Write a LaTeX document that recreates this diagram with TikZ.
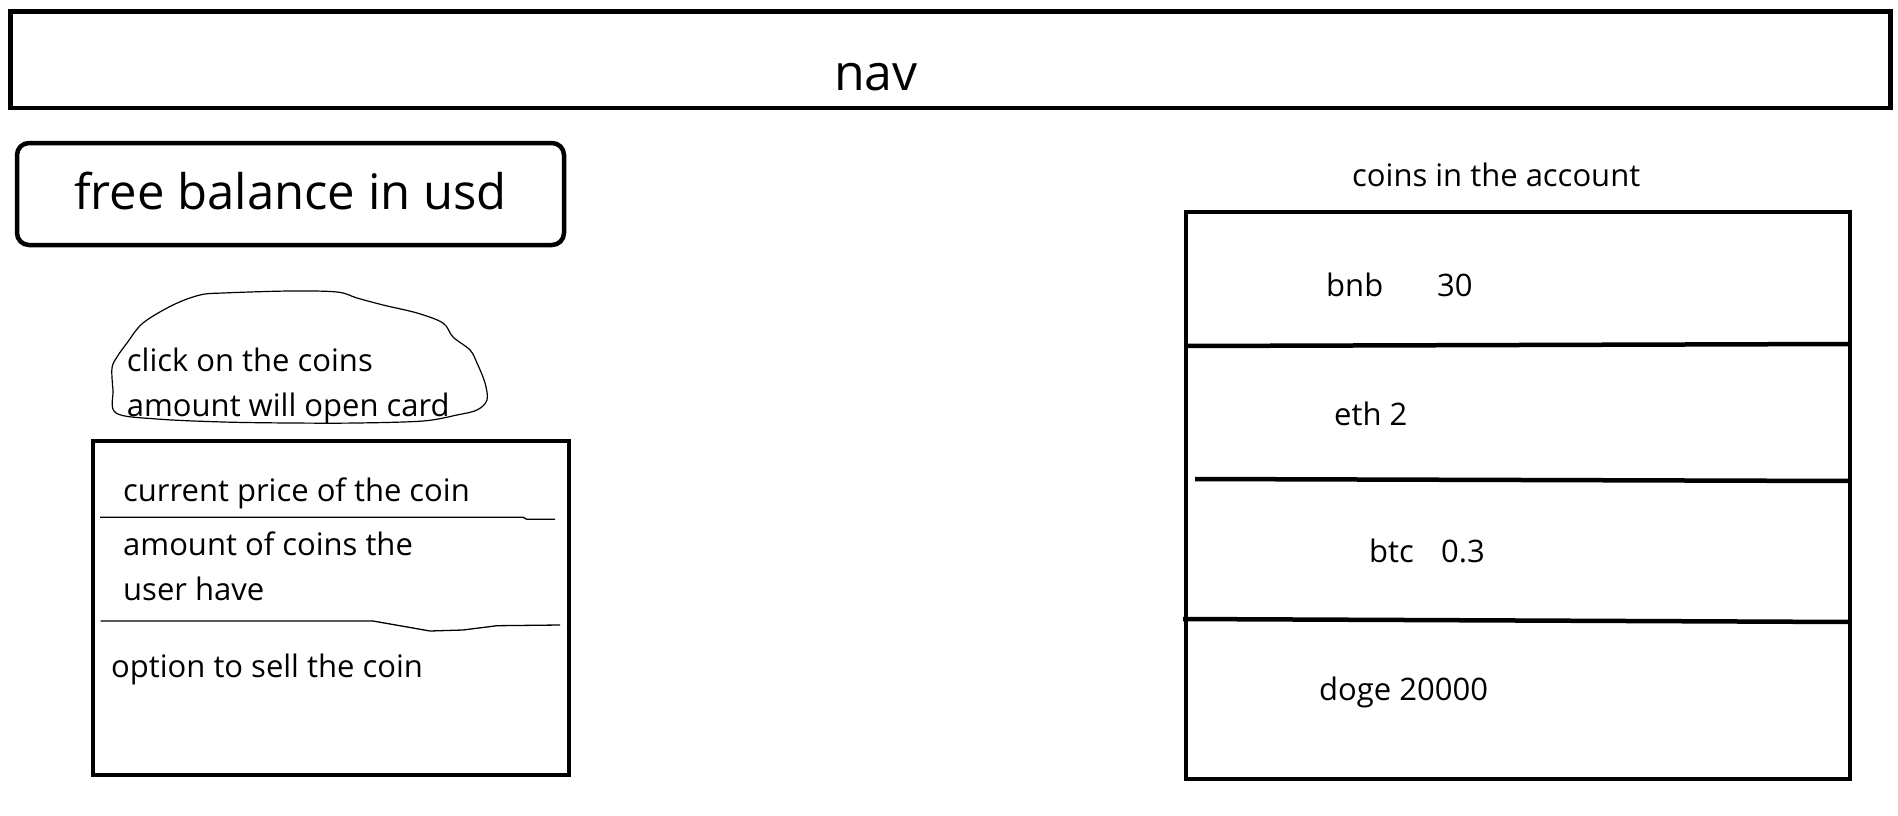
\documentclass[tikz,border=0pt]{standalone}
\usepackage{fontspec}
\setmainfont{Open Sans}
\usetikzlibrary{calc}

\begin{document}
\begin{tikzpicture}[x=1pt,y=-1pt,box/.style={draw,line width=4.5pt,inner sep=0pt,outer sep=0pt},txt/.style={inner sep=0pt,anchor=base west,align=left,font={\fontsize{31}{45}\selectfont}},thin/.style={line width=1.3pt}]
            \useasboundingbox (0,0) rectangle (1898,816);

            \node[box,minimum width=1880pt,minimum height=96pt] (nav) at (950.5,59.75) {};
            \node[inner sep=0pt,anchor=base,font={\fontsize{50}{60}\selectfont}] (navlabel) at (876,90.7) {nav};

            \node[box,rounded corners=12pt,minimum width=547pt,minimum height=102pt,text height=37pt,text depth=6pt,font={\fontsize{49}{59}\selectfont}] (balance) at (290.5,194) {free balance in usd};

            \draw[line width=1.2pt] plot[smooth cycle,tension=0.55] coordinates {
                (112,368) (113,390) (116,413) (157,419) (223,422) (290,423) (357,423)
                (423,421) (457,415) (477,410) (487,400) (485,383) (477,363) (470,350)
                (453,337) (443,323) (417,313) (383,305) (357,298) (337,292) (290,291)
                (223,293) (200,295) (173,305) (143,323) (127,343) (117,357)
            };
            \node[txt] (hint) at (126.7,416.7) {click on the coins\\amount will open card};

            \node[box,minimum width=476pt,minimum height=334pt] (card) at (331,608) {};
            \node[txt] (price) at (123,501) {current price of the coin};
            \draw[thin] (100,517.3) -- (523,517.3) -- (527,519.3) -- (555,519.3);
            \node[txt] (amount) at (123,600) {amount of coins the\\user have};
            \draw[thin] (100.7,621) -- (373,621) -- (430,631) -- (463,630) -- (497,625.7) -- (560,625);
            \node[txt] (sell) at (111,677) {option to sell the coin};

            \node[txt] (title) at (1352,186) {coins in the account};
            \node[box,minimum width=664pt,minimum height=567pt] (coins) at (1518,495.5) {};
            \draw[line width=4.5pt] ($ (coins.north west) + (0,134) $) -- ($ (coins.north east) + (0,132) $);
            \draw[line width=4.5pt] ($ (coins.north west) + (9,267) $) -- ($ (coins.north east) + (0,269) $);
            \draw[line width=4.5pt] ($ (coins.north west) + (-3,407) $) -- ($ (coins.north east) + (0,410) $);

            \node[txt] (bnb) at (1326,296) {bnb};
            \node[txt] (bnbamt) at (1437,296) {30};
            \node[txt] (eth) at (1334,425) {eth 2};
            \node[txt] (btc) at (1369,562) {btc};
            \node[txt] (btcamt) at (1441,562) {0.3};
            \node[txt] (doge) at (1319,700) {doge 20000};
        \end{tikzpicture}
\end{document}
